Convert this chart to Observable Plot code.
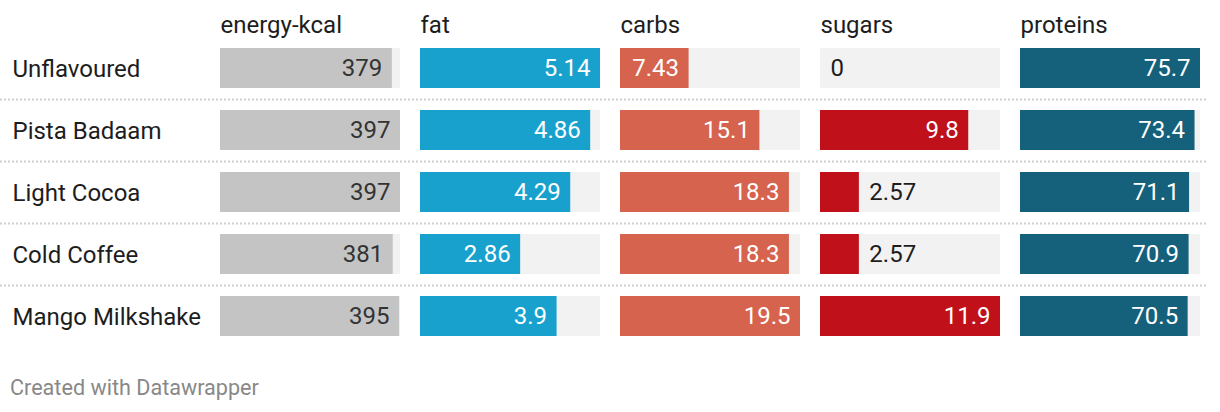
<!DOCTYPE html>
<html>
<head>
<meta charset="utf-8">
<script src="https://cdn.jsdelivr.net/npm/d3@7"></script>
<script src="https://cdn.jsdelivr.net/npm/@observablehq/plot@0.6"></script>
<style>
  html, body { margin: 0; padding: 0; background: #fff; }
  body { width: 1220px; height: 412px; position: relative; overflow: hidden; font-family: Roboto, sans-serif; }
  #chart { position: absolute; left: 0; top: 0; }
  #footer { position: absolute; left: 10px; top: 375px; font-size: 21.6px; color: #888; font-family: Roboto, sans-serif; }
</style>
</head>
<body>
<div id="chart"></div>
<div id="footer">Created with Datawrapper</div>
<script>
// ---- data ----
const products = ["Unflavoured", "Pista Badaam", "Light Cocoa", "Cold Coffee", "Mango Milkshake"];
const nutrients = ["energy-kcal", "fat", "carbs", "sugars", "proteins"];
const energyKcal = [379, 397, 397, 381, 395];
const fat = [5.14, 4.86, 4.29, 2.86, 3.9];
const carbs = [7.43, 15.1, 18.3, 18.3, 19.5];
const sugars = [0, 9.8, 2.57, 2.57, 11.9];
const proteins = [75.7, 73.4, 71.1, 70.9, 70.5];
const barColors = ["#c4c4c4", "#18a1cd", "#d6634d", "#c0111b", "#15607a"];

// ---- build table ----
const series = [energyKcal, fat, carbs, sugars, proteins];
const colMax = {};
nutrients.forEach((n, j) => colMax[n] = d3.max(series[j]));
const cells = [];
nutrients.forEach((n, j) => {
  products.forEach((p, i) => {
    const v = series[j][i];
    cells.push({product: p, nutrient: n, value: v, share: v / colMax[n], max: colMax[n], label: String(v)});
  });
});
const fits = d => d.share > 0.3;
const insideLight = cells.filter(d => fits(d) && d.nutrient !== "energy-kcal");
const insideDark = cells.filter(d => fits(d) && d.nutrient === "energy-kcal");
const outside = cells.filter(d => !fits(d));

const chart = Plot.plot({
  width: 1220,
  height: 360,
  marginLeft: 220,
  marginRight: 20,
  marginTop: 48,
  marginBottom: 24,
  style: {fontFamily: "Roboto, sans-serif", fontSize: "24px", background: "transparent"},
  fx: {domain: nutrients, paddingInner: 0.1, paddingOuter: 0, round: false, axis: null},
  x: {domain: [0, 1], axis: null},
  y: {domain: products, paddingInner: 22 / 62, paddingOuter: 0, round: false, axis: null},
  color: {domain: nutrients, range: barColors},
  marks: [
    // dotted row separators
    Plot.ruleY(products.slice(0, -1), {
      fx: () => nutrients[0], y: d => d, dy: 31,
      insetLeft: -220, insetRight: -808,
      stroke: "#cfcfcf", strokeWidth: 2, strokeDasharray: "2,2"
    }),
    // background tracks (column max)
    Plot.barX(cells, {fx: "nutrient", y: "product", x: d => d.max / colMax[d.nutrient], fill: "#f2f2f2"}),
    // value bars
    Plot.barX(cells, {fx: "nutrient", y: "product", x: "share", fill: "nutrient"}),
    // column headers
    Plot.text(nutrients, {
      fx: d => d, text: d => d, frameAnchor: "top-left", textAnchor: "start",
      lineAnchor: "bottom", dy: -16, fontSize: 24, fill: "#1d1d1d"
    }),
    // row labels
    Plot.text(products, {
      fx: () => nutrients[0], y: d => d, text: d => d, frameAnchor: "left",
      textAnchor: "start", dx: -208, dy: 1, fontSize: 24, fill: "#1d1d1d"
    }),
    // value labels
    Plot.text(insideLight, {fx: "nutrient", y: "product", x: "share", text: "label", textAnchor: "end", dx: -10, fontSize: 24, fill: "#ffffff"}),
    Plot.text(insideDark, {fx: "nutrient", y: "product", x: "share", text: "label", textAnchor: "end", dx: -10, fontSize: 24, fill: "#333333"}),
    Plot.text(outside, {fx: "nutrient", y: "product", x: "share", text: "label", textAnchor: "start", dx: 10, fontSize: 24, fill: "#1d1d1d"})
  ]
});
document.getElementById("chart").appendChild(chart);
</script>
</body>
</html>
